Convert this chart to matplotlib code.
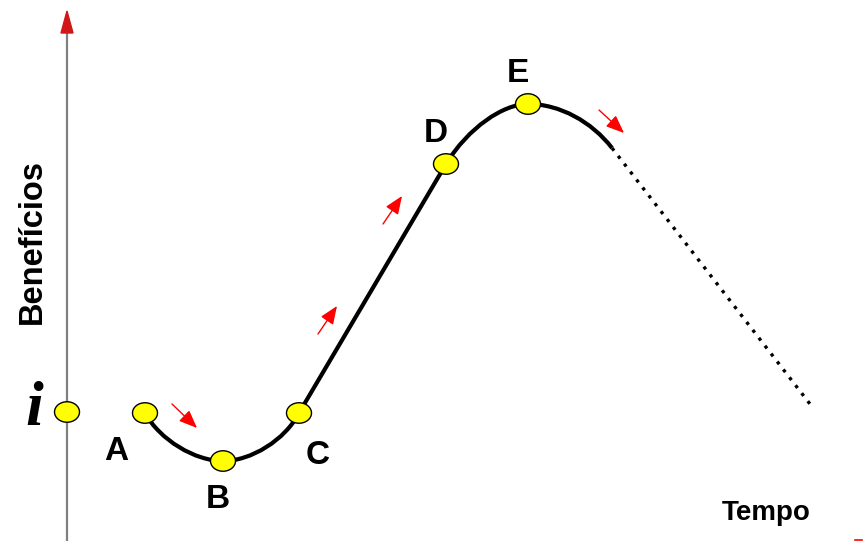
import matplotlib.pyplot as plt
from matplotlib.patches import Ellipse, PathPatch, Polygon
from matplotlib.path import Path

# point positions (time, benefit) on a 865 x 541 canvas
labels = ["A", "B", "C", "D", "E"]
tempo = [145, 223, 299, 446, 528]
beneficio = [128, 80, 128, 377, 437]
label_x = [116, 218, 318, 436, 518]
label_y = [89, 41, 85, 408, 468]

# starting value "i" on the vertical axis
i_tempo, i_benef = 67, 129

# bezier control points of the solid curve
ctrl_ab = [(160, 101), (195, 80)]
ctrl_bc = [(251, 80), (285, 101)]
ctrl_de = [(468, 413), (503, 437)]
ctrl_ef = [(560, 437), (592, 419)]
fim_solido = (612, 393)
fim_pontilhado = (810, 137)

# red trend arrows (start, end)
setas = [((172, 137), (197, 113)),
         ((318, 207), (337, 235)),
         ((383, 317), (402, 345)),
         ((599, 431), (624, 408))]

fig = plt.figure(figsize=(8.65, 5.41), dpi=100)
ax = fig.add_axes([0, 0, 1, 1])
ax.set_xlim(0, 865)
ax.set_ylim(0, 541)
ax.axis("off")

# vertical axis
ax.plot([i_tempo, i_tempo], [0, 508], color="#808080", lw=1.6, zorder=1)
ax.add_patch(Polygon([(i_tempo - 6, 508), (i_tempo + 6, 508), (i_tempo, 530)],
                     closed=True, color="#d01818", zorder=2))
# cut off x axis arrow at bottom right
ax.plot([855, 862], [1, 1], color="red", lw=1.2)

pts = list(zip(tempo, beneficio))
verts = [pts[0], ctrl_ab[0], ctrl_ab[1], pts[1],
         ctrl_bc[0], ctrl_bc[1], pts[2],
         pts[3],
         ctrl_de[0], ctrl_de[1], pts[4],
         ctrl_ef[0], ctrl_ef[1], fim_solido]
codes = [Path.MOVETO, Path.CURVE4, Path.CURVE4, Path.CURVE4,
         Path.CURVE4, Path.CURVE4, Path.CURVE4,
         Path.LINETO,
         Path.CURVE4, Path.CURVE4, Path.CURVE4,
         Path.CURVE4, Path.CURVE4, Path.CURVE4]
ax.add_patch(PathPatch(Path(verts, codes), fill=False, lw=3, color="black",
                       capstyle="butt", zorder=3))

ax.plot([fim_solido[0], fim_pontilhado[0]], [fim_solido[1], fim_pontilhado[1]],
        color="black", lw=2.4, linestyle=(0, (1, 2.0)), zorder=3)

for (x0, y0), (x1, y1) in setas:
    ax.annotate("", xy=(x1, y1), xytext=(x0, y0),
                arrowprops=dict(arrowstyle="-|>,head_length=1.1,head_width=0.45",
                                color="red", lw=1.0, shrinkA=0, shrinkB=0),
                zorder=4)

for x, y in pts + [(i_tempo, i_benef)]:
    ax.add_patch(Ellipse((x, y), 25, 20.5, facecolor="#ffff00", edgecolor="black",
                         lw=1.0, zorder=5))

for lab, x, y in zip(labels, label_x, label_y):
    ax.text(x, y, lab, fontsize=24, fontweight="bold", family="Liberation Sans",
            ha="center", va="center")

ax.text(34, 131, "i", fontsize=46, fontweight="bold", fontstyle="italic",
        family="Liberation Serif", ha="center", va="center")
ax.text(32, 300, "Benefícios", fontsize=23.5, fontweight="bold",
        family="Liberation Sans", rotation=90, ha="center", va="center")
ax.text(766, 28, "Tempo", fontsize=20, fontweight="bold",
        family="Liberation Sans", ha="center", va="center")

fig.savefig("out.png", dpi=100)
